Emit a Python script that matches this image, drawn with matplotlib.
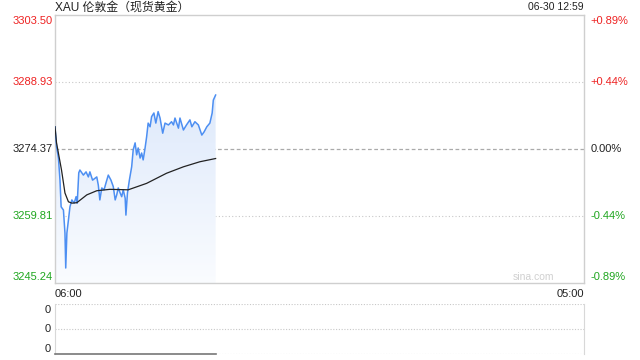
import matplotlib
matplotlib.use("Agg")
import matplotlib.pyplot as plt
import numpy as np
from matplotlib.patches import Polygon

plt.rcParams['font.family'] = ['Liberation Sans', 'Noto Sans CJK SC', 'DejaVu Sans']

title = "XAU 伦敦金（现货黄金）"
stamp = "06-30 12:59"
prev_close = 3274.37
y_ticks = [3245.24, 3259.81, 3274.37, 3288.93, 3303.50]
y_tick_labels = ["3245.24", "3259.81", "3274.37", "3288.93", "3303.50"]
pct_labels = ["-0.89%", "-0.44%", "0.00%", "+0.44%", "+0.89%"]
x_tick_labels = ["06:00", "05:00"]
session_minutes = 1380  # 06:00 -> 05:00 next day

# minutes since 06:00, price
t_price = [0, 4, 9, 13, 16, 22, 26, 28, 31, 35, 39, 44, 50, 55, 58, 62, 65, 74, 81, 87,
           91, 98, 109, 113, 117, 122, 128, 133, 139, 146, 152, 157, 161, 165, 170, 174,
           178, 183, 185, 189, 194, 200, 204, 209, 213, 217, 222, 226, 230, 235, 239, 243,
           248, 252, 258, 263, 269, 274, 281, 287, 296, 304, 309, 313, 322, 326, 335, 343,
           352, 357, 365, 374, 383, 389, 396, 404, 410, 413, 419]
price = [3279.2, 3274.9, 3272.4, 3267.6, 3261.8, 3261.1, 3256.1, 3248.5, 3256.1, 3258.9,
         3261.8, 3263.3, 3262.6, 3264.0, 3262.6, 3269.2, 3269.8, 3268.7, 3269.4, 3268.3,
         3269.4, 3267.6, 3268.3, 3266.5, 3263.3, 3265.9, 3265.5, 3267.0, 3268.7, 3267.6,
         3266.2, 3263.3, 3264.4, 3265.9, 3264.8, 3264.0, 3265.5, 3263.7, 3260.0, 3264.8,
         3267.6, 3270.5, 3274.2, 3275.7, 3273.1, 3274.6, 3272.4, 3273.5, 3272.0, 3274.6,
         3277.0, 3280.0, 3279.2, 3281.4, 3282.2, 3280.0, 3282.5, 3281.1, 3277.8, 3280.0,
         3279.6, 3280.3, 3279.6, 3281.1, 3278.9, 3281.1, 3278.5, 3279.6, 3280.7, 3279.2,
         3280.3, 3279.6, 3277.4, 3278.1, 3279.2, 3280.0, 3282.2, 3285.0, 3286.1]

t_avg = [0, 4, 17, 26, 35, 44, 57, 83, 109, 143, 191, 239, 291, 335, 378, 419]
avg = [3279.2, 3275.7, 3269.8, 3264.8, 3262.9, 3262.6, 3262.7, 3264.4, 3265.3, 3265.6,
       3265.5, 3266.9, 3269.1, 3270.5, 3271.6, 3272.3]

t_vol = [0, 419]
volume = [0, 0]

fig = plt.figure(figsize=(6.4, 3.6), dpi=100)
ax = fig.add_axes([55/640, (360-283)/360, 529/640, 268/360])
ymin, ymax = y_ticks[0], y_ticks[-1]
ax.set_xlim(0, session_minutes)
ax.set_ylim(ymin, ymax)

# gradient fill under price
grad = np.linspace(0, 1, 256).reshape(-1, 1)
top_c = np.array([0.87, 0.915, 0.985])
bot_c = np.array([0.98, 0.987, 0.998])
img = bot_c + (top_c - bot_c) * grad
img = img.reshape(256, 1, 3)
im = ax.imshow(img, extent=[0, session_minutes, ymin, max(price)], origin='lower',
               aspect='auto', zorder=1)
verts = list(zip(t_price, price)) + [(t_price[-1], ymin), (t_price[0], ymin)]
poly = Polygon(verts, closed=True, facecolor='none', edgecolor='none')
ax.add_patch(poly)
im.set_clip_path(poly)

ax.plot(t_price, price, color='#4d8ff2', lw=1.1, zorder=3)
ax.plot(t_avg, avg, color='#222222', lw=0.9, zorder=4)

for yv in [y_ticks[1], y_ticks[3]]:
    ax.axhline(yv, color='#c8c8c8', lw=0.8, ls=(0, (1, 2)), zorder=0.5)
ax.axhline(prev_close, color='#aaaaaa', lw=0.9, ls=(0, (3, 2)), zorder=0.5)

for s in ax.spines.values():
    s.set_color('#cfcfcf')
    s.set_linewidth(1.0)
ax.set_xticks([])
ax.set_yticks([])

colors = ['#1fa61f', '#1fa61f', '#222222', '#ee2222', '#ee2222']
label_pos = [ymin + 1.3, y_ticks[1], y_ticks[2], y_ticks[3], ymax - 1.2]
for yv, lab, pl, c in zip(label_pos, y_tick_labels, pct_labels, colors):
    ax.text(-0.004, yv, lab, transform=ax.get_yaxis_transform(), ha='right', va='center',
            fontsize=8, color=c)
    ax.text(1.012, yv, pl, transform=ax.get_yaxis_transform(), ha='left', va='center',
            fontsize=8, color=c)

fig.text(55/640, 1 - 7.5/360, title, ha='left', va='center', fontsize=8.6, color='#222222')
fig.text(584/640, 1 - 7.5/360, stamp, ha='right', va='center', fontsize=7.5, color='#222222')
ax.text(0, -0.022, x_tick_labels[0], transform=ax.transAxes, ha='left', va='top', fontsize=8, color='#222222')
ax.text(1, -0.022, x_tick_labels[1], transform=ax.transAxes, ha='right', va='top', fontsize=8, color='#222222')
ax.text(0.905, 0.022, "sina.com", transform=ax.transAxes, ha='center', va='center', fontsize=7.5, color='#d0d0d0')

# volume panel
ax2 = fig.add_axes([55/640, (360-354)/360, 529/640, 50/360])
ax2.set_xlim(0, session_minutes)
ax2.set_ylim(0, 1)
ax2.plot(t_vol, volume, color='#777777', lw=1.2, zorder=3, clip_on=False)
for yv in [0, 0.5, 1]:
    ax2.axhline(yv, color='#c8c8c8', lw=0.8, ls=(0, (1, 1.5)), zorder=0.5)
ax2.spines['top'].set_visible(False)
ax2.spines['bottom'].set_visible(False)
ax2.spines['left'].set_color('#d8d8d8')
ax2.spines['right'].set_color('#d8d8d8')
ax2.set_xticks([])
ax2.set_yticks([])
for yv in [0.1, 0.5, 0.88]:
    ax2.text(-0.008, yv, "0", transform=ax2.get_yaxis_transform(), ha='right', va='center',
             fontsize=8, color='#222222')

fig.savefig("out.png", dpi=100)
